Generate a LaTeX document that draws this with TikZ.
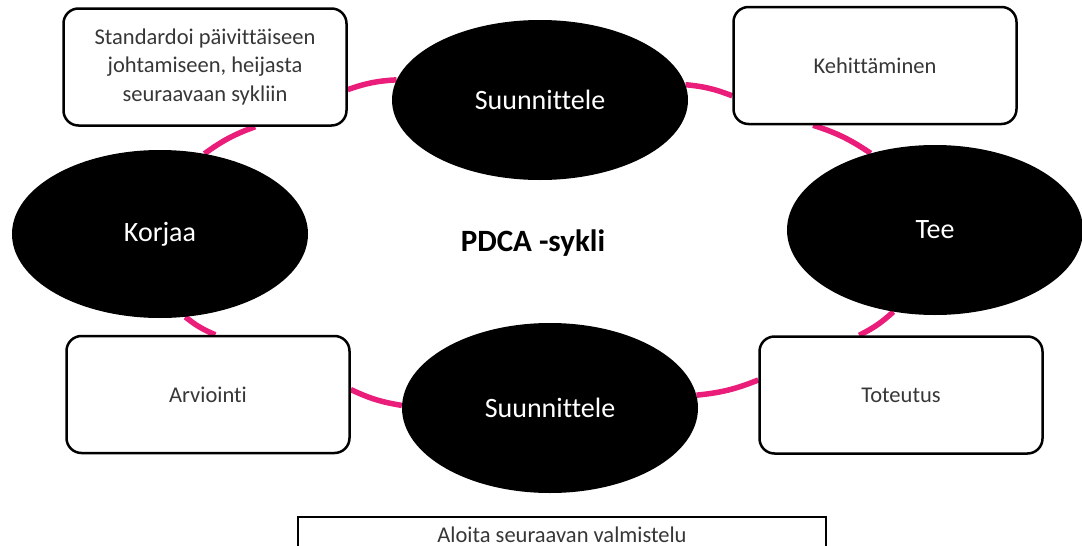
\documentclass[tikz,border=0pt]{standalone}
\usepackage{fontspec}
\setmainfont{Carlito}[Ligatures={NoCommon}]
\usetikzlibrary{shapes.geometric,backgrounds}
\definecolor{ringpink}{RGB}{234,30,122}
\definecolor{boxtext}{RGB}{55,55,55}
\begin{document}
\begin{tikzpicture}[x=1pt,y=-1pt,
  blob/.style={ellipse, fill=black, text=white, inner sep=0pt,
    font=\fontsize{28}{32}\selectfont},
  card/.style={rectangle, rounded corners=15pt, draw=black, line width=2.5pt,
    fill=white, text=boxtext, minimum width=283pt, minimum height=117pt,
    inner sep=0pt, align=center, font=\fontsize{22.5}{28.5}\selectfont},
  ring/.style={draw=ringpink, line width=5.5pt}]
\useasboundingbox (0,0) rectangle (1082,546);
\clip (0,0) rectangle (1082,546);
% ellipses
\node[blob, minimum width=296pt, minimum height=160pt] (S1) at (540,100) {Suunnittele};
\node[blob, minimum width=296pt, minimum height=168pt] (Ko) at (160,234) {Korjaa};
\node[blob, minimum width=296pt, minimum height=170pt] (T) at (935,230) {Tee};
\node[blob, minimum width=296pt, minimum height=170pt] (S2) at (550,408) {Suunnittele};
% boxes
\node[card] (St) at (205,67) {Standardoi päivittäiseen\\johtamiseen, heijasta\\seuraavaan sykliin};
\node[card] (K) at (875,65.5) {Kehittäminen};
\node[card] (A) at (208,394.5) {Arviointi};
\node[card] (To) at (901,395) {Toteutus};
% title
\node[font=\bfseries\fontsize{31}{36}\selectfont, text=black] (P) at (533,243) {PDCA -sykli};
% bottom box
\node[draw=black, line width=2pt, minimum width=528pt, minimum height=36pt,
  inner sep=0pt, text=boxtext, font=\fontsize{22.5}{28.5}\selectfont] (B) at (562,535) {Aloita seuraavan valmistelu};
% ring connectors
\begin{scope}[on background layer]
\fill[white] (0,0) rectangle (1082,546);
\draw[ring] (St.-9) to[bend left=8] (S1.172);
\draw[ring] (S1.6) to[bend left=8] (K.-168);
\draw[ring] (K.-136) to[bend left=8] (T.130);
\draw[ring] (T.-117) to[bend left=8] (To.125);
\draw[ring] (To.174) to[bend left=8] (S2.5);
\draw[ring] (S2.179) to[bend left=8] (A.2);
\draw[ring] (A.83) to[bend left=8] (Ko.-73);
\draw[ring] (Ko.61) to[bend left=8] (St.-50);
\end{scope}
\end{tikzpicture}
\end{document}
